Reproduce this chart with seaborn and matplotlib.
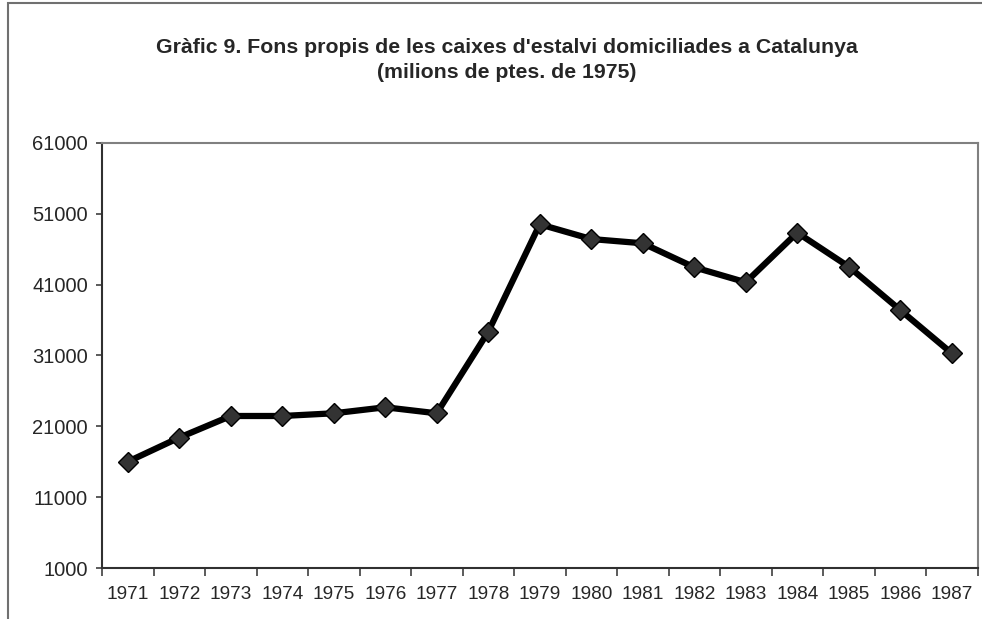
import matplotlib
matplotlib.use("Agg")
import matplotlib.pyplot as plt
from matplotlib.patches import Rectangle
from matplotlib.ticker import FixedLocator, NullFormatter
import seaborn as sns
import pandas as pd

years = [1971, 1972, 1973, 1974, 1975, 1976, 1977, 1978, 1979,
         1980, 1981, 1982, 1983, 1984, 1985, 1986, 1987]
fons_propis = [16000, 19400, 22450, 22450, 22830, 23680, 22830, 34340, 49500,
               47420, 46820, 43430, 41320, 48320, 43520, 37400, 31300]
y_ticks = [1000, 11000, 21000, 31000, 41000, 51000, 61000]

title = ("Gràfic 9. Fons propis de les caixes d'estalvi domiciliades a Catalunya\n"
         "(milions de ptes. de 1975)")

sns.set_style("white")
plt.rcParams['font.family'] = ['Liberation Sans', 'DejaVu Sans']

df = pd.DataFrame({'pos': range(len(years)), 'valor': fons_propis})

fig = plt.figure(figsize=(9.82, 6.19), dpi=100)
ax = fig.add_axes([102 / 982, 51 / 619, 875.5 / 982, 425.2 / 619])

sns.lineplot(data=df, x='pos', y='valor', ax=ax, color='black', linewidth=4.5,
             marker='D', markersize=10.5, markerfacecolor='#333333',
             markeredgecolor='black', markeredgewidth=1.0)

ax.set_xlim(-0.5, len(years) - 0.5)
ax.set_ylim(1000, 61000)
ax.set_yticks(y_ticks)
ax.set_yticklabels([str(v) for v in y_ticks], fontsize=14.5)

# Excel style: ticks between categories, labels centred under points
ax.xaxis.set_major_locator(FixedLocator([i - 0.5 for i in range(len(years) + 1)]))
ax.xaxis.set_major_formatter(NullFormatter())
ax.xaxis.set_minor_locator(FixedLocator(list(range(len(years)))))
ax.set_xticklabels([str(y) for y in years], minor=True, fontsize=13.7)
ax.tick_params(axis='x', which='major', direction='out', length=6, width=1.2,
               color='#404040', bottom=True)
ax.tick_params(axis='x', which='minor', length=0, pad=13, bottom=True)
ax.tick_params(axis='y', direction='out', length=4, width=1.2, color='#404040',
               left=True, pad=6)
ax.set_xlabel('')
ax.set_ylabel('')

for side in ['left', 'bottom']:
    ax.spines[side].set_color('#303030')
    ax.spines[side].set_linewidth(1.5)
for side in ['top', 'right']:
    ax.spines[side].set_color('#808080')
    ax.spines[side].set_linewidth(1.5)

fig.text(0.516, (619 - 38) / 619, title, ha='center', va='top', fontsize=15.3,
         fontweight='bold', linespacing=1.4)

# outer chart border (only top and left visible in the crop)
fig.patches.append(Rectangle((8 / 982, -0.1), 1.2, (616 / 619) + 0.1,
                             transform=fig.transFigure, fill=False,
                             edgecolor='#707070', linewidth=1.5))

fig.savefig('out.png', dpi=100)
